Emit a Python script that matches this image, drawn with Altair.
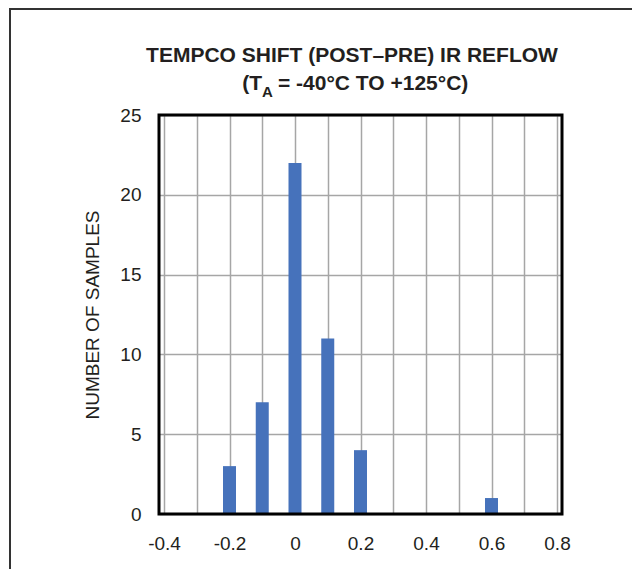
import altair as alt
import pandas as pd

# Data
shift_values = [-0.2, -0.1, 0.0, 0.1, 0.2, 0.6]
sample_counts = [3, 7, 22, 11, 4, 1]

x_ticks = [-0.4, -0.3, -0.2, -0.1, 0.0, 0.1, 0.2, 0.3, 0.4, 0.5, 0.6, 0.7, 0.8]
y_ticks = [0, 5, 10, 15, 20, 25]

title_line1 = "TEMPCO SHIFT (POST\u2013PRE) IR REFLOW"
title_line2_a = "(T"
title_line2_sub = "A"
title_line2_b = "= -40\u00b0C TO +125\u00b0C)"
y_title = "NUMBER OF SAMPLES"

FONT = "Liberation Sans, Arial, Helvetica, sans-serif"
TXT = "#231f20"
W, H = 403, 399

df = pd.DataFrame({"shift": shift_values, "count": sample_counts})

label_expr = (
    "abs(round(datum.value*10)) % 2 == 0 ? "
    "(abs(datum.value) < 1e-9 ? '0' : replace(format(datum.value, '.1f'), '\u2212', '-')) : ''"
)

bars = alt.Chart(df).mark_bar(color="#4672bb", size=13).encode(
    x=alt.X(
        "shift:Q",
        scale=alt.Scale(domain=[-0.4, 0.8], nice=False, zero=False),
        axis=alt.Axis(
            values=x_ticks,
            labelExpr=label_expr,
            title=None,
            grid=True,
            gridColor="#a6a6a6",
            gridWidth=1.5,
            domain=False,
            ticks=False,
            labelPadding=20,
            labelFont=FONT,
            labelFontSize=19,
            labelColor=TXT,
            labelFlush=False,
        ),
    ),
    y=alt.Y(
        "count:Q",
        scale=alt.Scale(domain=[0, 25], nice=False),
        axis=alt.Axis(
            values=y_ticks,
            title=y_title,
            grid=True,
            gridColor="#a6a6a6",
            gridWidth=1.5,
            domain=False,
            ticks=False,
            labelPadding=18,
            labelFont=FONT,
            labelFontSize=19,
            labelColor=TXT,
            titleFont=FONT,
            titleFontSize=19,
            titleFontWeight="normal",
            titleColor=TXT,
            titleX=-67,
            titleY=H / 2,
            titleBaseline="middle",
            titleAlign="center",
        ),
    ),
)

one = pd.DataFrame({"t": [title_line1]})

frame = alt.Chart(one).mark_rect(fill=None, stroke="black", strokeWidth=3).encode(
    x=alt.value(0), x2=alt.value(W), y=alt.value(0), y2=alt.value(H)
)

left_line = alt.Chart(one).mark_rule(color="#333333", strokeWidth=2).encode(
    x=alt.value(-149), y=alt.value(-107), y2=alt.value(455)
)
top_line = alt.Chart(one).mark_rule(color="#333333", strokeWidth=2).encode(
    x=alt.value(-150), x2=alt.value(473), y=alt.value(-106)
)

t1 = alt.Chart(pd.DataFrame({"t": [title_line1]})).mark_text(
    font=FONT, fontSize=21, fontWeight="bold", color=TXT, align="center", baseline="alphabetic"
).encode(text="t:N", x=alt.value(193), y=alt.value(-53))

t2a = alt.Chart(pd.DataFrame({"t": [title_line2_a]})).mark_text(
    font=FONT, fontSize=21, fontWeight="bold", color=TXT, align="right", baseline="alphabetic"
).encode(text="t:N", x=alt.value(103), y=alt.value(-25))

t2s = alt.Chart(pd.DataFrame({"t": [title_line2_sub]})).mark_text(
    font=FONT, fontSize=15, fontWeight="bold", color=TXT, align="left", baseline="alphabetic"
).encode(text="t:N", x=alt.value(103), y=alt.value(-18))

t2b = alt.Chart(pd.DataFrame({"t": [title_line2_b]})).mark_text(
    font=FONT, fontSize=21, fontWeight="bold", color=TXT, align="left", baseline="alphabetic"
).encode(text="t:N", x=alt.value(119), y=alt.value(-25))

chart = alt.layer(left_line, top_line, bars, frame, t1, t2a, t2s, t2b).properties(
    width=W,
    height=H,
    autosize=alt.AutoSizeParams(type="none"),
    padding={"left": 151, "top": 107, "right": 70, "bottom": 55},
).configure_view(stroke=None).configure(background="white")

chart.save("out.html", embed_options={"renderer": "svg", "actions": False})
